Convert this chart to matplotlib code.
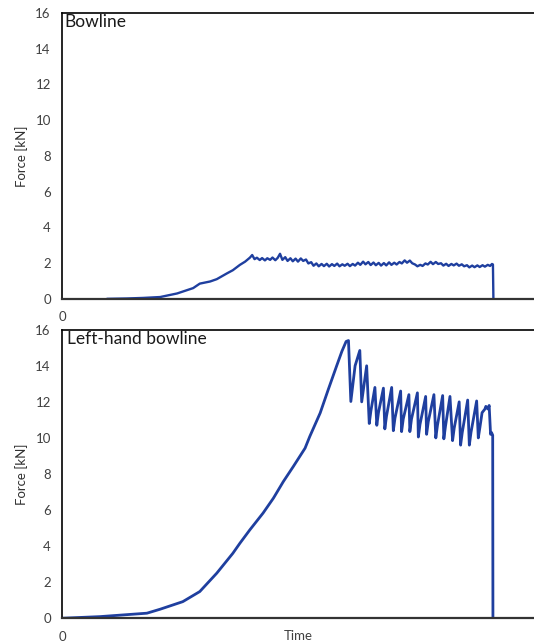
import matplotlib
matplotlib.use("Agg")
import matplotlib.pyplot as plt

plt.rcParams['font.family'] = ['Lato', 'DejaVu Sans']

# Bowline (top panel): time (arbitrary units) and force in kN
bowline_t = [9.7, 13.8, 17.2, 20.8, 24.4, 27.8, 29.2, 31.4, 32.8, 35.0, 36.2, 37.7, 38.8, 39.8, 40.3,
             40.8, 41.3, 41.9, 42.4, 43.0, 43.5, 44.1, 44.6, 45.2, 45.7,
             46.2, 46.7, 47.3, 47.8, 48.4, 48.9, 49.5, 50.0, 50.6, 51.1,
             51.7, 52.2, 52.8, 53.3, 53.9, 54.4, 55.0, 55.5, 56.1, 56.6,
             57.2, 57.7, 58.3, 58.8, 59.4, 59.9, 60.5, 61.0, 61.6, 62.1,
             62.7, 63.2, 63.8, 64.3, 64.9, 65.4, 66.0, 66.5, 67.1, 67.6,
             68.2, 68.7, 69.3, 69.8, 70.4, 70.9, 71.5, 72.0, 72.6, 73.1,
             73.7, 74.2, 74.8, 75.3, 75.9, 76.4, 77.0, 77.5, 78.1, 78.6,
             79.2, 79.7, 80.3, 80.8, 81.4, 81.9, 82.5, 83.0, 83.6, 84.1,
             84.7, 85.2, 85.8, 86.3, 86.9, 87.4, 88.0, 88.5, 89.1, 89.6,
             90.2, 90.7, 91.1, 91.3, 91.4]
bowline_f = [0.0, 0.02, 0.05, 0.1, 0.3, 0.6, 0.85, 0.97, 1.1, 1.43, 1.6, 1.9, 2.08, 2.3, 2.45,
             2.22, 2.30, 2.17, 2.28, 2.15, 2.27, 2.18, 2.31, 2.16, 2.29,
             2.52, 2.18, 2.33, 2.12, 2.27, 2.10, 2.25, 2.08, 2.26, 2.12,
             2.20, 1.98, 2.05, 1.85, 1.98, 1.82, 1.95, 1.83, 1.96, 1.81,
             1.94, 1.84, 1.97, 1.82, 1.93, 1.85, 1.96, 1.83, 1.95, 1.86,
             2.02, 1.90, 2.08, 1.93, 2.06, 1.89, 2.03, 1.88, 2.01, 1.86,
             2.00, 1.87, 2.04, 1.90, 2.02, 1.92, 2.06, 1.98, 2.15, 2.02,
             2.14, 1.99, 1.92, 1.82, 1.90, 1.84, 1.98, 1.92, 2.07, 1.94,
             2.06, 1.95, 1.99, 1.86, 1.96, 1.84, 1.95, 1.87, 1.97, 1.85,
             1.93, 1.82, 1.88, 1.76, 1.86, 1.77, 1.87, 1.78, 1.88, 1.80,
             1.90, 1.84, 1.95, 1.92, 0.0]

# Left-hand bowline (bottom panel)
lh_t = [0.0, 8.05, 18.0, 20.8, 25.6, 29.2, 32.8, 36.2, 37.7, 39.8, 42.6, 44.8, 46.9, 49.0,
        51.5, 52.5, 54.7, 56.4, 58.2, 59.3, 60.2, 60.7, 61.2, 62.1, 63.1, 63.5, 64.55, 65.1,
        65.45, 66.3, 66.7, 67.05, 68.1, 68.4, 68.75, 69.85, 70.2, 70.55, 71.75, 71.95,
        72.3, 73.5, 73.7, 74.05, 75.3, 75.5, 75.85, 77.05, 77.25, 77.6, 78.8, 79.2,
        79.55, 80.65, 80.9, 81.25, 82.2, 82.75, 83.1, 84.15, 84.45, 84.8, 85.95, 86.3,
        86.65, 87.85, 88.2, 88.55, 89.0, 89.6, 89.8, 90.25, 90.5, 90.8, 91.0, 91.25, 91.3]
lh_f = [0.0, 0.09, 0.28, 0.5, 0.92, 1.48, 2.5, 3.6, 4.16, 4.9, 5.83, 6.66, 7.58, 8.41,
        9.43, 10.08, 11.38, 12.67, 14.0, 14.8, 15.35, 15.4, 12.02, 14.0, 14.85, 12.0, 14.0, 10.8,
        11.5, 12.8, 10.7, 11.4, 12.76, 10.5, 11.2, 12.8, 10.4, 11.1, 12.6, 10.35,
        11.05, 12.4, 10.35, 11.05, 12.5, 10.05, 10.75, 12.3, 10.2, 10.9, 12.4, 10.0,
        10.7, 12.35, 9.95, 10.65, 12.3, 9.85, 10.55, 12.0, 9.6, 10.3, 12.1, 9.6,
        10.3, 12.05, 10.0, 10.6, 11.4, 11.6, 11.75, 11.6, 11.8, 10.2, 10.3, 10.15, 0.0]

titles = ["Bowline", "Left-hand bowline"]
yticks = [0, 2, 4, 6, 8, 10, 12, 14, 16]
line_color = "#1f3f9f"
text_color = "#404040"

fig = plt.figure(figsize=(5.34, 6.44), dpi=100)
ax1 = fig.add_axes([0.116, 0.536, 0.884, 0.444])
ax2 = fig.add_axes([0.116, 0.040, 0.884, 0.448])

panels = [(ax1, bowline_t, bowline_f, 1.7), (ax2, lh_t, lh_f, 2.0)]
for i, (ax, t, f, lw) in enumerate(panels):
    ax.plot(t, f, color=line_color, lw=lw, solid_joinstyle='round')
    ax.set_xlim(0, 100)
    ax.set_ylim(0, 16)
    ax.set_yticks(yticks)
    ax.set_xticks([0])
    ax.tick_params(length=0, labelsize=9.5, labelcolor=text_color, pad=8)
    ax.tick_params(axis='x', pad=9)
    ax.spines['right'].set_visible(False)
    for s in ['left', 'top']:
        ax.spines[s].set_linewidth(1.2)
        ax.spines[s].set_color('black')
    ax.spines['bottom'].set_linewidth(1.6)
    ax.spines['bottom'].set_color('#333333')
    ax.set_ylabel("Force [kN]", fontsize=9.5, color='#303030', labelpad=5)
    ax.text(0.006 if i == 0 else 0.011, 0.995, titles[i], transform=ax.transAxes,
            fontsize=12.5, color='#1a1a1a', ha='left', va='top')

ax2.set_xlabel("Time", fontsize=9.5, color=text_color)
ax2.xaxis.set_label_coords(0.5, -0.04)

fig.savefig("out.png", dpi=100)
